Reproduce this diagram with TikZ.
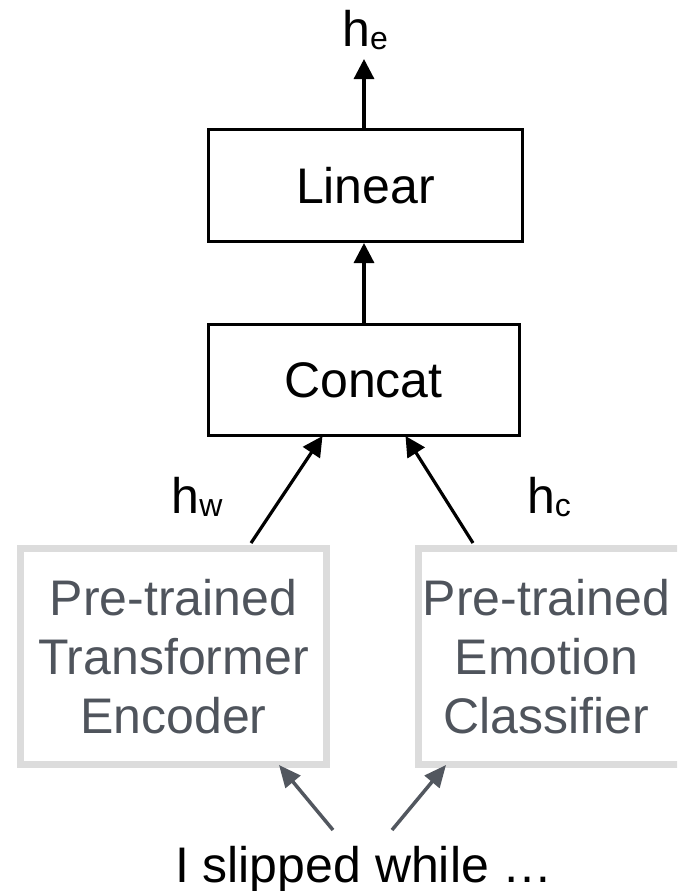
\documentclass[tikz,border=0pt]{standalone}
\usepackage{fontspec}
\setmainfont{Liberation Sans}
\usetikzlibrary{arrows.meta}
\definecolor{boxgray}{HTML}{DCDCDC}
\definecolor{textgray}{HTML}{4F545C}
\definecolor{arrowgray}{HTML}{52575F}
\newcommand{\bigtext}{\fontsize{50}{61}\selectfont}
\newcommand{\vecsym}[1]{h{\fontsize{32}{32}\selectfont\raisebox{-3pt}{#1}}}
\newcommand{\pullleft}{\hspace*{-24pt}}
\begin{document}
\begin{tikzpicture}[x=1pt,y=-1pt,
  blackbox/.style={draw=black,line width=3pt,inner sep=0pt,font=\bigtext},
  graybox/.style={draw=boxgray,line width=7pt,inner sep=0pt,font=\bigtext,
    text=textgray,align=center},
  flow/.style={line width=3.2pt,draw=black,-{Triangle[length=20pt,width=20pt]}},
  feed/.style={line width=3.5pt,draw=arrowgray,
    -{Triangle[length=22pt,width=19pt]}},
  vec/.style={anchor=base,font=\bigtext,inner sep=0pt}]
\useasboundingbox (0,0) rectangle (677,891);
\begin{scope}
\clip (0,0) rectangle (677,891);

% processing blocks
\node[blackbox,minimum width=314pt,minimum height=112pt] (lin) at (365.5,185.5) {Linear};
\node[blackbox,minimum width=311pt,minimum height=111pt] (cat) at (363.5,380) {Concat};

% pre-trained encoders (the right one runs past the page edge)
\node[graybox,minimum width=306pt,minimum height=216pt] (enc) at (173.5,656.5)
  {Pre-trained\\[-2pt]Transformer\\[-2pt]Encoder};
\node[graybox,minimum width=280pt,minimum height=216pt,text width=262pt] (cls) at (558.5,656.5)
  {\pullleft Pre-trained\\[-2pt]\pullleft Emotion\\[-2pt]\pullleft Classifier};

% input sentence
\node[anchor=base,font=\bigtext,inner sep=0pt] (inp) at (364,882) {I slipped while …};

% vector labels
\node[vec] (he) at (365,47) {\vecsym{e}};
\node[vec] (hw) at (197,513) {\vecsym{w}};
\node[vec] (hc) at (549,513) {\vecsym{c}};

% connector end points
\coordinate (top) at (364,59);
\coordinate (hwstart) at (251,543);
\coordinate (hcstart) at (473,543);
\coordinate (inl) at (333,830);
\coordinate (inr) at (392,830);

% connectors
\draw[flow] (lin.north -| top) -- (top);
\draw[flow] (cat.north -| top) -- (lin.south -| top);
\draw[flow] (hwstart) -- ([xshift=-41pt,yshift=1pt]cat.south);
\draw[flow] (hcstart) -- ([xshift=42pt,yshift=1pt]cat.south);
\draw[feed] (inl) -- ([xshift=105.5pt,yshift=3pt]enc.south);
\draw[feed] (inr) -- ([xshift=-112.5pt,yshift=3pt]cls.south);
\end{scope}
\end{tikzpicture}
\end{document}
